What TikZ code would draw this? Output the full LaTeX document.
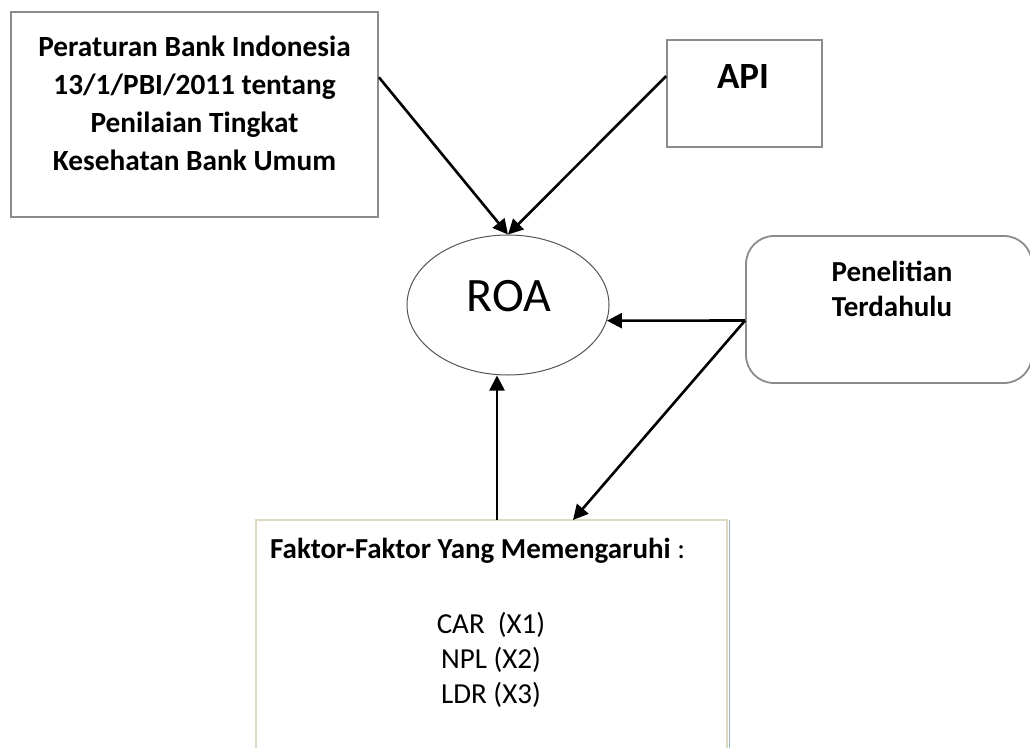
\documentclass[tikz,border=0pt]{standalone}
\usepackage{fontspec}
\setmainfont{Carlito}
\usetikzlibrary{arrows.meta,calc,shapes.geometric}
\definecolor{boxgray}{HTML}{8C8C8C}
\definecolor{ellgray}{HTML}{555555}
\definecolor{beige}{HTML}{DDD9C3}
\definecolor{bluegray}{HTML}{93B3C3}
\begin{document}
\begin{tikzpicture}[x=1pt,y=-1pt,
  box/.style={draw=boxgray, line width=1.8pt, inner sep=0pt},
  txt/.style={inner sep=0pt, align=center, text=black},
  conn/.style={line width=2.6pt, draw=black, -{Triangle[length=15pt,width=15pt]}}]
\useasboundingbox (0,0) rectangle (1030,747);
\clip (0,0) rectangle (1030,747);
\fill[white] (0,0) rectangle (1030,747);

% boxes
\node[box, minimum width=367pt, minimum height=205pt] (b1) at (194.5,114.5) {};
\node[txt, font=\fontsize{29.3}{38}\selectfont\bfseries] (b1t) at (194.5,103)
  {Peraturan Bank Indonesia\\13/1/PBI/2011 tentang\\Penilaian Tingkat\\Kesehatan Bank Umum};

\node[box, minimum width=155pt, minimum height=107pt] (api) at (744.5,93.5) {};
\node[txt, font=\fontsize{37}{42}\selectfont\bfseries] (apit) at (743,77) {API};

\node[box, rounded corners=28pt, minimum width=286pt, minimum height=147pt] (pen) at (889,309.5) {};
\node[txt, font=\fontsize{29}{35}\selectfont\bfseries] (pent) at (892,289) {Penelitian\\Terdahulu};

\node[ellipse, draw=ellgray, line width=1pt, minimum width=202pt, minimum height=140pt, inner sep=0pt] (roa) at (508,305) {};
\node[txt, font=\fontsize{48}{52}\selectfont] (roat) at (509,296) {ROA};

% bottom box (open at bottom)
\node[inner sep=0pt, minimum width=471pt, minimum height=260pt, anchor=north west] (fk) at (256,520) {};
\draw[beige, line width=2pt] (fk.south west) -- (fk.north west) -- (fk.north east) -- (fk.south east);
\draw[bluegray, line width=1.2pt] ($(fk.north east)+(2,0)$) -- ($(fk.south east)+(2,0)$);
\node[txt, font=\fontsize{29}{32}\selectfont, anchor=base west] (fkt) at (270,558)
  {\textbf{Faktor-Faktor Yang Memengaruhi} :};
\node[txt, font=\fontsize{29}{35}\selectfont, anchor=base] (v1) at (491,633) {CAR~~(X1)};
\node[txt, font=\fontsize{29}{35}\selectfont, anchor=base] (v2) at (491,668) {NPL (X2)};
\node[txt, font=\fontsize{29}{35}\selectfont, anchor=base] (v3) at (491,703) {LDR (X3)};

% connectors
\coordinate (b1out) at ($(b1.north east)!0.32!(b1.south east)$);
\coordinate (apiout) at ($(api.north west)!0.34!(api.south west)$);
\coordinate (penout) at ($(pen.west)+(0,11)$);
\coordinate (fkin) at ($(fk.north west)+(317,0)$);
\coordinate (fkup) at ($(fk.north west)+(241,0)$);
\draw[conn] (b1out) -- (roa.north);
\draw[conn] (apiout) -- (roa.north);
\draw[conn] (penout) -- (roa.-9);
\draw[conn] (penout) -- (fkin);
\draw[conn] (fkup) -- (fkup |- roa.south);
\end{tikzpicture}
\end{document}
